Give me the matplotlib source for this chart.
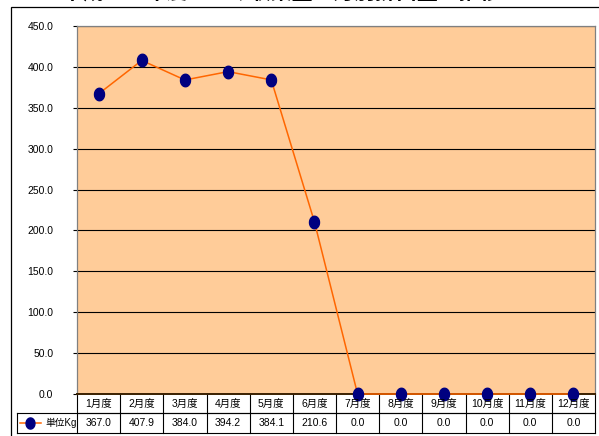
import numpy as np
import matplotlib.pyplot as plt
from matplotlib.path import Path
from matplotlib.patches import Rectangle
from matplotlib.lines import Line2D

plt.rcParams['font.family'] = ['Liberation Sans', 'Noto Sans CJK JP', 'DejaVu Sans']

months = ['1月度', '2月度', '3月度', '4月度', '5月度', '6月度',
          '7月度', '8月度', '9月度', '10月度', '11月度', '12月度']
weights = [367.0, 407.9, 384.0, 394.2, 384.1, 210.6, 0.0, 0.0, 0.0, 0.0, 0.0, 0.0]
series_name = '単位Kg'
yticks = np.arange(0, 451, 50)

W, H = 599, 436
fig = plt.figure(figsize=(W / 100, H / 100), dpi=100)

# plot area in pixels
left, top, right, bottom = 77, 26, 595, 394
ax = fig.add_axes([left / W, 1 - bottom / H, (right - left) / W, (bottom - top) / H])

# outer chart frame
fig.patches.append(Rectangle((11 / W, -0.05), 1.0, 1 - 7 / H + 0.05,
                             transform=fig.transFigure, fill=False,
                             edgecolor='black', linewidth=0.9))
fig.text(0.47, 1 + 1 / H, '平成２２年度　ごみ収集量　月別排出量の推移', ha='center', va='baseline',
         fontsize=15, fontweight='bold', family=['Noto Sans CJK JP'])

ax.set_facecolor('#FFCC99')
for y in yticks[1:]:
    ax.axhline(y, color='black', linewidth=0.8, zorder=1)

# slightly tall oval marker
t = np.linspace(0, 2 * np.pi, 40)
oval = Path(np.column_stack([0.8 * np.cos(t), np.sin(t)]), closed=True)

x = np.arange(len(months))
ax.plot(x, weights, color='#FF6600', linewidth=1.1, marker=oval, markersize=9,
        markerfacecolor='#000080', markeredgecolor='#000080', zorder=3, clip_on=False)

ax.set_xlim(-0.5, len(months) - 0.5)
ax.set_ylim(0, 450)
ax.set_yticks(yticks)
ax.set_yticklabels([f'{v:.1f}' for v in yticks], fontsize=7.5)
ax.tick_params(axis='y', length=3, width=0.8, pad=14, colors='black')
ax.set_xticks([])

for side in ['top', 'right', 'left']:
    ax.spines[side].set_color('#808080')
    ax.spines[side].set_linewidth(0.9)
ax.spines['bottom'].set_color('#3a2000')
ax.spines['bottom'].set_linewidth(1.4)

# data table under the axis
row1 = -19 / (bottom - top)
row2 = -39 / (bottom - top)
tr = ax.get_xaxis_transform()
lc = dict(color='black', linewidth=0.8, clip_on=False, transform=tr)
legend_x0 = -0.5 - (left - 17) / ((right - left) / len(months))
ax.add_line(Line2D([-0.5, 11.5], [row1, row1], **lc))
ax.add_line(Line2D([legend_x0, 11.5], [row1, row1], **lc))
ax.add_line(Line2D([legend_x0, 11.5], [row2, row2], **lc))
ax.add_line(Line2D([legend_x0, legend_x0], [row1, row2], **lc))
for i in range(len(months) + 1):
    ax.add_line(Line2D([i - 0.5, i - 0.5], [0, row2], **lc))

for i, (m, v) in enumerate(zip(months, weights)):
    ax.text(i, row1 / 2, m, transform=tr, ha='center', va='center', fontsize=7.5)
    ax.text(i, (row1 + row2) / 2, f'{v:.1f}', transform=tr, ha='center', va='center', fontsize=7.5)

# legend key inside the table
ym = (row1 + row2) / 2
key_x = legend_x0 + 0.06
ax.add_line(Line2D([key_x, key_x + 0.5], [ym, ym], color='#FF6600', linewidth=1.1,
                   clip_on=False, transform=tr))
ax.add_line(Line2D([key_x + 0.25], [ym], marker=oval, markersize=8, color='#000080',
                   clip_on=False, transform=tr))
ax.text(key_x + 0.6, ym, series_name, transform=tr, ha='left', va='center', fontsize=7)

fig.savefig('out.png', dpi=100)
